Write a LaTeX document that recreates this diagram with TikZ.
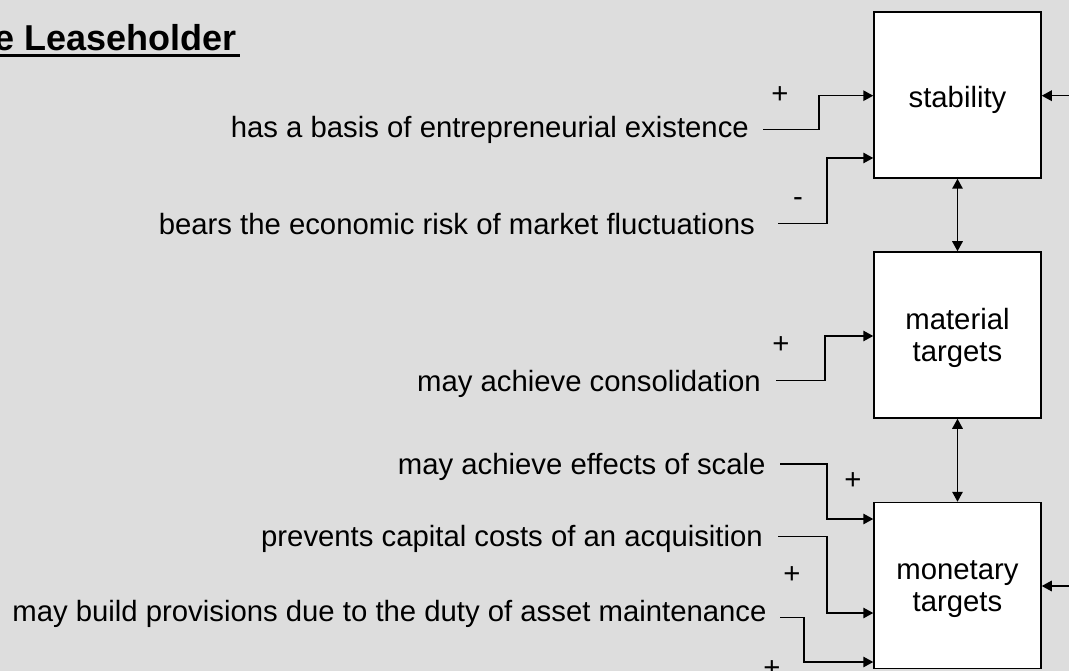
\documentclass[tikz,border=0pt]{standalone}
\usepackage{fontspec}
\setmainfont{Liberation Sans}
\usetikzlibrary{arrows.meta}
\definecolor{bgc}{RGB}{221,221,221}
\tikzset{
  box/.style={draw=black, line width=1.5pt, fill=white, minimum width=167pt, minimum height=166pt, inner sep=0pt},
  lbl/.style={inner sep=0pt, font=\fontsize{29.3}{32}\selectfont, text=black},
  blbl/.style={lbl, align=center},
  sign/.style={inner sep=0pt, font=\fontsize{29.3}{32}\selectfont, anchor=base},
  conn/.style={line width=1.5pt, -{Triangle[length=10pt,width=10.5pt]}},
  dconn/.style={line width=1.5pt, {Triangle[length=10pt,width=10.5pt]}-{Triangle[length=10pt,width=10.5pt]}}
}
\begin{document}
\begin{tikzpicture}[x=1pt,y=-1pt]
\useasboundingbox (0,0) rectangle (1069,671);
\fill[bgc] (0,0) rectangle (1069,671);
\clip (0,0) rectangle (1069,671);

% title
\node[inner sep=0pt, anchor=base east, font=\fontsize{36}{40}\selectfont\bfseries] (title) at (237,51) {e Leaseholder};
\draw[line width=3pt] (title.base west |- 0,55.5) -- (240,55.5);

% boxes
\node[box] (stab) at (957.5,95) {};
\node[box] (mat) at (957.5,335) {};
\node[box] (mon) at (957.5,585.5) {};
\node[lbl, anchor=base] (stabt) at ([yshift=-13pt]stab.center) {stability};
\node[blbl] (matt) at ([yshift=-3pt]mat.center) {material\\targets};
\node[blbl] (mont) at ([yshift=-3.5pt]mon.center) {monetary\\targets};

% left texts
\node[lbl, anchor=base east] (t1) at (749,138) {has a basis of entrepreneurial existence};
\node[lbl, anchor=base east] (t2) at (755,235) {bears the economic risk of market fluctuations};
\node[lbl, anchor=base east] (t3) at (761,391.7) {may achieve consolidation};
\node[lbl, anchor=base east] (t4) at (765.7,474) {may achieve effects of scale};
\node[lbl, anchor=base east] (t5) at (763,546.7) {prevents capital costs of an acquisition};
\node[lbl, anchor=base east] (t6) at (766.7,621) {may build provisions due to the duty of asset maintenance};

% connector starts
\coordinate (s1) at (763,129.3);
\coordinate (s2) at (778,223.3);
\coordinate (s3) at (776,380.7);
\coordinate (s4) at (780,464);
\coordinate (s5) at (778,536.7);
\coordinate (s6) at (780,617.3);
\coordinate (r1) at (1069,95.7);
\coordinate (r2) at (1069,586);

\draw[conn] (s1) -- ++(56,0) |- ([yshift=-0.7pt]stab.west);
\draw[conn] (s2) -- ++(49,0) |- ([yshift=-63pt]stab.west);
\draw[conn] (s3) -- ++(49,0) |- ([yshift=-1pt]mat.west);
\draw[conn] (s4) -- ++(47,0) |- ([yshift=66.5pt]mon.west);
\draw[conn] (s5) -- ++(49,0) |- ([yshift=-27.5pt]mon.west);
\draw[conn] (s6) -- ++(24,0) |- ([yshift=-76.5pt]mon.west);

\draw[conn] (r1) -- (r1 -| stab.east);
\draw[conn] (r2) -- (r2 -| mon.east);

\draw[dconn] (stab.south) -- (mat.north);
\draw[dconn] (mat.south) -- (mon.north);

% signs
\node[sign] (p1) at (780,104) {+};
\node[sign] (m2) at (798,207) {-};
\node[sign] (p3) at (781,353) {+};
\node[sign] (p4) at (853,489) {+};
\node[sign] (p5) at (792,583) {+};
\node[sign] (p6) at (772,677) {+};
\end{tikzpicture}
\end{document}
